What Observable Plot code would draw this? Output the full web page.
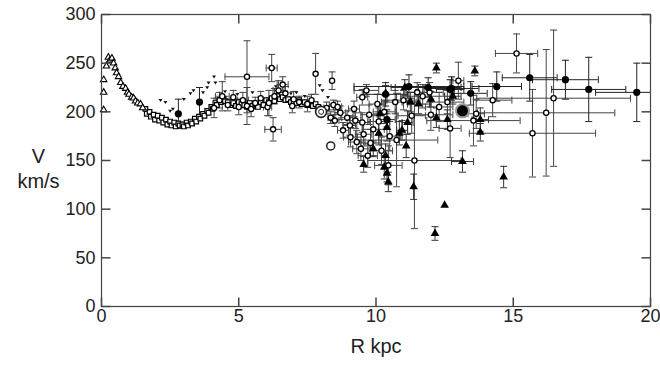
<!DOCTYPE html>
<html><head><meta charset="utf-8">
<script src="https://cdn.jsdelivr.net/npm/d3@7"></script>
<script src="https://cdn.jsdelivr.net/npm/@observablehq/plot@0.6"></script>
<style>body{margin:0;background:#fff;}</style>
</head><body><div id="chart"></div>
<script>
const xTicks = [0, 5, 10, 15, 20];
const yTicks = [0, 50, 100, 150, 200, 250, 300];
const xTitle = "R kpc";
const yTitle = "V\nkm/s";

// inner open triangles [R, V]
const innerTriangles = [[0.08,202],[0.08,220],[0.08,233],[0.18,247],[0.25,256],[0.3,253],[0.38,255],[0.44,250],[0.5,245],[0.55,240],[0.62,236],[0.7,230],[0.78,226],[0.88,224],[0.95,220],[1.0,218],[1.1,215],[1.17,214],[1.24,211],[1.32,209],[1.42,208],[1.5,204]];

// terminal-velocity open squares [R, V]
const termSquares = [[1.6,203],[1.65,198],[1.75,200],[1.8,195],[1.9,197],[1.95,192],[2.05,196],[2.1,191],[2.2,194],[2.25,189],[2.35,192],[2.4,187],[2.5,190],[2.55,186],[2.65,189],[2.7,185],[2.8,188],[2.85,186],[2.95,187],[3.0,185],[3.1,189],[3.15,186],[3.25,190],[3.3,188],[3.4,193],[3.45,190],[3.55,195],[3.6,193],[3.7,198],[3.75,196],[3.85,201],[3.9,199],[4.0,205],[4.05,203],[4.15,209],[4.2,207],[4.3,212],[4.35,210],[4.45,213],[4.5,211],[4.6,210],[4.7,207],[4.8,209],[4.9,206],[5.0,210],[5.1,208],[5.2,207],[5.3,205],[5.4,209],[5.5,206],[5.6,208],[5.7,205],[5.8,210],[5.9,207],[6.0,212],[6.1,210],[6.2,214],[6.3,211],[6.4,216],[6.5,213],[6.6,215],[6.7,212],[6.8,213],[6.9,210],[7.0,211],[7.1,209],[7.2,212],[7.3,208],[7.4,210],[7.5,207],[7.6,209],[7.7,206],[7.8,208],[7.9,205]];

// small filled dots [R, V]
const smallDots = [[2.15,212],[2.33,210],[2.5,201],[2.6,203],[3.0,213],[3.24,219],[3.35,222],[3.7,220],[3.85,225],[3.9,230],[4.1,236],[4.15,230],[4.5,221],[4.95,218],[5.5,220],[6.35,226],[6.9,219],[7.1,220],[7.4,216],[7.95,227],[8.05,222],[8.25,215]];

// open circles [R, V, errR, errV]
const openCircles = [[4.1,204,0,10],[4.3,212,0,8],[4.4,216,0.25,15],[4.6,207,0,6],[4.8,215,0,7],[5.0,205,0,8],[5.15,212,0.2,8],[5.3,236,0.8,37],[5.3,206,0,19],[5.45,203,0,8],[5.6,209,0,6],[5.8,214,0,7],[6.05,205,0.15,9],[6.1,209,0,13],[6.2,245,0.2,14],[6.25,182,0.3,12],[6.3,216,0,8],[6.45,222,0.2,10],[6.6,228,0.2,8],[6.7,219,0,7],[6.95,206,0,7],[7.0,213,0,8],[7.2,210,0,6],[7.5,208,0,8],[7.65,212,0,6],[7.8,239,0,21],[8.2,204,0.1,6],[8.4,232,0,9],[8.45,207,0.15,5],[8.35,194,0.1,6],[8.5,191,0.15,6],[8.6,205,0.15,6],[8.7,199,0.2,7],[8.8,181,0.2,8],[8.95,194,0.2,7],[9.05,186,0.25,10],[9.07,174,0.25,10],[9.2,203,0.2,8],[9.25,191,0.2,8],[9.3,169,0.3,12],[9.45,162,0.3,12],[9.5,189,0.3,10],[9.5,215,0.2,8],[9.55,177,0.3,12],[9.65,222,0.45,6],[9.7,155,0.35,12],[9.75,197,0.3,10],[9.8,168,0.35,14],[9.9,182,0.4,14],[10.05,208,0.3,10],[10.1,190,0.4,14],[10.2,160,0.4,14],[10.3,200,0.4,12],[10.45,145,0.5,20],[10.5,175,0.4,15],[10.7,210,0.5,12],[10.75,171,1.5,48],[11.0,212,0.6,10],[11.3,196,0.5,18],[11.4,150,1.7,70],[11.5,220,0.4,10],[11.7,216,0.8,12],[11.95,220,0.5,10],[12.0,197,0.8,16],[12.3,205,0.5,15],[12.6,210,0.6,12],[12.7,183,0.4,30],[13.0,232,0.2,19],[13.55,191,1.7,26],[13.65,198,0.3,15],[14.25,212,0.7,17],[15.12,260,0.77,20],[15.7,178,2.3,45],[16.2,199,2.5,65],[16.47,214,2.8,70]];

// filled circles [R, V, errR, errV]
const filledCircles = [[2.8,198,0,15],[3.57,210,0,15],[10.35,218,0.8,12],[10.4,192,0.3,10],[11.2,226,2.0,12],[11.9,225,1.2,10],[12.7,223,0.5,10],[12.75,224,1.0,12],[13.45,219,0.6,12],[14.4,226,0.9,15],[15.6,235,1.0,24],[16.9,233,1.2,20],[17.75,223,1.35,33],[19.5,220,1.5,30]];

// filled triangles [R, V, errR, errV]
const filledTriangles = [[9.55,146,0,8],[9.9,162,0,8],[10.1,178,0,12],[10.15,198,0,10],[10.3,143,0,12],[10.35,155,0,12],[10.35,219,0,8],[10.4,137,0,9],[10.4,184,0,14],[10.45,128,0,10],[10.85,178,0,12],[10.95,181,0.2,10],[11.05,225,0.5,8],[11.1,165,0,12],[11.15,189,0.2,12],[11.25,210,0.3,10],[11.37,123,0,13],[11.55,208,0.4,10],[12.0,213,0,8],[12.2,194,0,10],[12.2,245,0,5],[12.15,75,0,7],[12.5,104,0,0],[12.6,192,0,10],[12.8,216,0.3,8],[13.15,149,0.4,11],[13.6,242,0,5],[13.8,179,0,9],[13.8,192,0.3,12],[14.65,133,0,11]];

// special large markers [R, V]
const doubleRing = [[8.0,200]];
const ringMarker = [[8.35,165]];
const bigDisc = [[13.15,201]];

const capH = {draw(ctx, size){const r=Math.sqrt(size/Math.PI); ctx.moveTo(-r,0); ctx.lineTo(r,0);}};
const capV = {draw(ctx, size){const r=Math.sqrt(size/Math.PI); ctx.moveTo(0,-r); ctx.lineTo(0,r);}};
const tickSym = (ux, uy) => ({draw(ctx, size){const r=Math.sqrt(size/Math.PI); ctx.moveTo(0,0); ctx.lineTo(ux*r, uy*r);}});
const triDown = {draw(ctx, size){const r=Math.sqrt(size/Math.PI); ctx.moveTo(-r,-r*0.6); ctx.lineTo(r,-r*0.6); ctx.lineTo(0,r*0.9); ctx.closePath();}};

function errorMarks(rows, stroke) {
  const ys = rows.filter(d => d[3] > 0), xs = rows.filter(d => d[2] > 0);
  const o = {stroke, strokeWidth: 1, clip: true};
  return [
    Plot.ruleX(ys, {x: d => d[0], y1: d => d[1]-d[3], y2: d => d[1]+d[3], ...o}),
    Plot.dot(ys, {x: d => d[0], y: d => d[1]-d[3], symbol: capH, r: 3.5, fill: "none", ...o}),
    Plot.dot(ys, {x: d => d[0], y: d => d[1]+d[3], symbol: capH, r: 3.5, fill: "none", ...o}),
    Plot.ruleY(xs, {y: d => d[1], x1: d => d[0]-d[2], x2: d => d[0]+d[2], ...o}),
    Plot.dot(xs, {x: d => d[0]-d[2], y: d => d[1], symbol: capV, r: 3.5, fill: "none", ...o}),
    Plot.dot(xs, {x: d => d[0]+d[2], y: d => d[1], symbol: capV, r: 3.5, fill: "none", ...o})
  ];
}

const frameColor = "#444";
const chart = Plot.plot({
  width: 660, height: 367,
  marginLeft: 101, marginRight: 10, marginTop: 14, marginBottom: 61,
  style: {fontFamily: "'Liberation Sans', Arial, sans-serif", fontSize: "18px", color: "#222", background: "#fff"},
  x: {domain: [0, 20], ticks: xTicks, tickSize: 0, tickPadding: 3, label: null},
  y: {domain: [0, 300], ticks: yTicks, tickSize: 0, tickPadding: 6, label: null},
  marks: [
    ...errorMarks(openCircles, "#444"),
    ...errorMarks(filledCircles, "#222"),
    ...errorMarks(filledTriangles, "#333"),
    Plot.dot(termSquares, {x: d => d[0], y: d => d[1], symbol: "square", r: 2.6, fill: "#fff", stroke: "#000", strokeWidth: 1.2}),
    Plot.dot(innerTriangles, {x: d => d[0], y: d => d[1], symbol: "triangle", r: 2.4, fill: "#fff", stroke: "#000", strokeWidth: 1.1}),
    Plot.dot(smallDots, {x: d => d[0], y: d => d[1], symbol: triDown, r: 2, fill: "#111", stroke: "none"}),
    Plot.dot(openCircles, {x: d => d[0], y: d => d[1], r: 2.6, fill: "#fff", stroke: "#000", strokeWidth: 1.3, clip: true}),
    Plot.dot(filledCircles, {x: d => d[0], y: d => d[1], r: 3.6, fill: "#000", stroke: "none", clip: true}),
    Plot.dot(filledTriangles, {x: d => d[0], y: d => d[1], symbol: "triangle", r: 3.2, fill: "#000", stroke: "none", clip: true}),
    Plot.dot(doubleRing, {x: d => d[0], y: d => d[1], r: 5.5, fill: "#fff", stroke: "#222", strokeWidth: 1.6}),
    Plot.dot(doubleRing, {x: d => d[0], y: d => d[1], r: 2.5, fill: "#fff", stroke: "#222", strokeWidth: 1}),
    Plot.dot(ringMarker, {x: d => d[0], y: d => d[1], r: 4, fill: "#fff", stroke: "#222", strokeWidth: 1.5}),
    Plot.dot(bigDisc, {x: d => d[0], y: d => d[1], r: 6.5, fill: "#000", stroke: "#999", strokeWidth: 2}),
    Plot.frame({stroke: frameColor, strokeWidth: 1.2}),
    Plot.dot(xTicks, {x: d => d, y: () => 0, symbol: tickSym(0,-1), r: 9, fill: "none", stroke: frameColor}),
    Plot.dot(xTicks, {x: d => d, y: () => 300, symbol: tickSym(0,1), r: 9, fill: "none", stroke: frameColor}),
    Plot.dot(yTicks, {x: () => 0, y: d => d, symbol: tickSym(1,0), r: 9, fill: "none", stroke: frameColor}),
    Plot.dot(yTicks, {x: () => 20, y: d => d, symbol: tickSym(-1,0), r: 9, fill: "none", stroke: frameColor}),
    Plot.text([yTitle], {text: d => d, frameAnchor: "left", dx: -63, dy: 7, textAnchor: "middle", lineHeight: 1.25, fontSize: 20, fill: "#222"}),
    Plot.text([xTitle], {text: d => d, frameAnchor: "bottom", dy: 46, textAnchor: "middle", fontSize: 20, fill: "#222"})
  ]
});
document.getElementById("chart").appendChild(chart);
</script></body></html>
